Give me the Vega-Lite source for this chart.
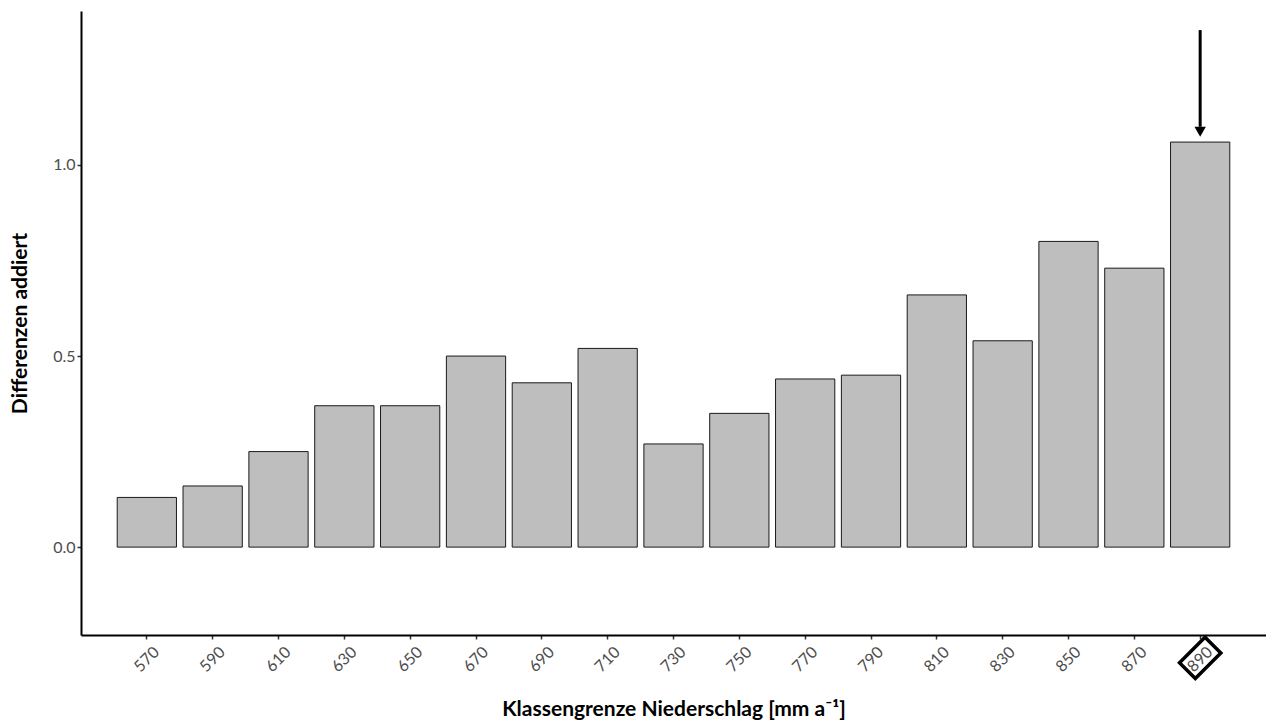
{
  "$schema": "https://vega.github.io/schema/vega-lite/v6.json",
  "width": 1185,
  "height": 624,
  "autosize": {"type": "none"},
  "padding": {"left": 81, "top": 11, "right": 0, "bottom": 91},
  "background": "white",
  "config": {
    "view": {"stroke": null},
    "font": "Lato",
    "axis": {"grid": false, "domainColor": "#000000", "domainWidth": 2, "tickColor": "#333333", "tickWidth": 1.5, "tickSize": 4, "labelColor": "#4d4d4d", "labelFontSize": 16, "labelFont": "Lato", "titleFont": "Lato", "titleFontSize": 21, "titleFontWeight": "bold", "titleColor": "#000000"}
  },
  "datasets": {
    "bars": [
      {"klasse": "570", "wert": 0.13},
      {"klasse": "590", "wert": 0.16},
      {"klasse": "610", "wert": 0.25},
      {"klasse": "630", "wert": 0.37},
      {"klasse": "650", "wert": 0.37},
      {"klasse": "670", "wert": 0.50},
      {"klasse": "690", "wert": 0.43},
      {"klasse": "710", "wert": 0.52},
      {"klasse": "730", "wert": 0.27},
      {"klasse": "750", "wert": 0.35},
      {"klasse": "770", "wert": 0.44},
      {"klasse": "790", "wert": 0.45},
      {"klasse": "810", "wert": 0.66},
      {"klasse": "830", "wert": 0.54},
      {"klasse": "850", "wert": 0.80},
      {"klasse": "870", "wert": 0.73},
      {"klasse": "890", "wert": 1.06}
    ],
    "arrow": [
      {"klasse": "890", "von": 1.353, "bis": 1.10, "spitze": 1.087}
    ],
    "markierung": [
      {"klasse": "890", "pos": -0.29}
    ]
  },
  "encoding": {
    "x": {
      "field": "klasse", "type": "nominal", "sort": null,
      "scale": {"paddingInner": 0.1, "paddingOuter": 0.55},
      "axis": {"title": "Klassengrenze Niederschlag [mm a⁻¹]", "labelAngle": -45, "labelAlign": "center", "labelBaseline": "middle", "labelPadding": 20, "labelDx": -4, "titlePadding": 24}
    }
  },
  "layer": [
    {
      "data": {"name": "bars"},
      "mark": {"type": "bar", "fill": "#bebebe", "stroke": "#1a1a1a", "strokeWidth": 1},
      "encoding": {
        "y": {
          "field": "wert", "type": "quantitative",
          "scale": {"domain": [-0.23, 1.403], "nice": false, "zero": false},
          "axis": {"title": "Differenzen addiert", "values": [0, 0.5, 1.0], "format": ".1f", "titlePadding": 22}
        }
      }
    },
    {
      "data": {"name": "arrow"},
      "mark": {"type": "rule", "stroke": "#000000", "strokeWidth": 3},
      "encoding": {
        "y": {"field": "von", "type": "quantitative"},
        "y2": {"field": "bis"}
      }
    },
    {
      "data": {"name": "arrow"},
      "mark": {"type": "point", "shape": "triangle-down", "filled": true, "fill": "#000000", "size": 130, "opacity": 1},
      "encoding": {
        "y": {"field": "spitze", "type": "quantitative"}
      }
    },
    {
      "data": {"name": "markierung"},
      "mark": {"type": "point", "shape": "M-1,-0.62L1,-0.62L1,0.62L-1,0.62Z", "angle": 315, "filled": false, "stroke": "#000000", "strokeWidth": 3.5, "size": 1300, "clip": false, "opacity": 1},
      "encoding": {
        "y": {"field": "pos", "type": "quantitative"}
      }
    }
  ]
}
